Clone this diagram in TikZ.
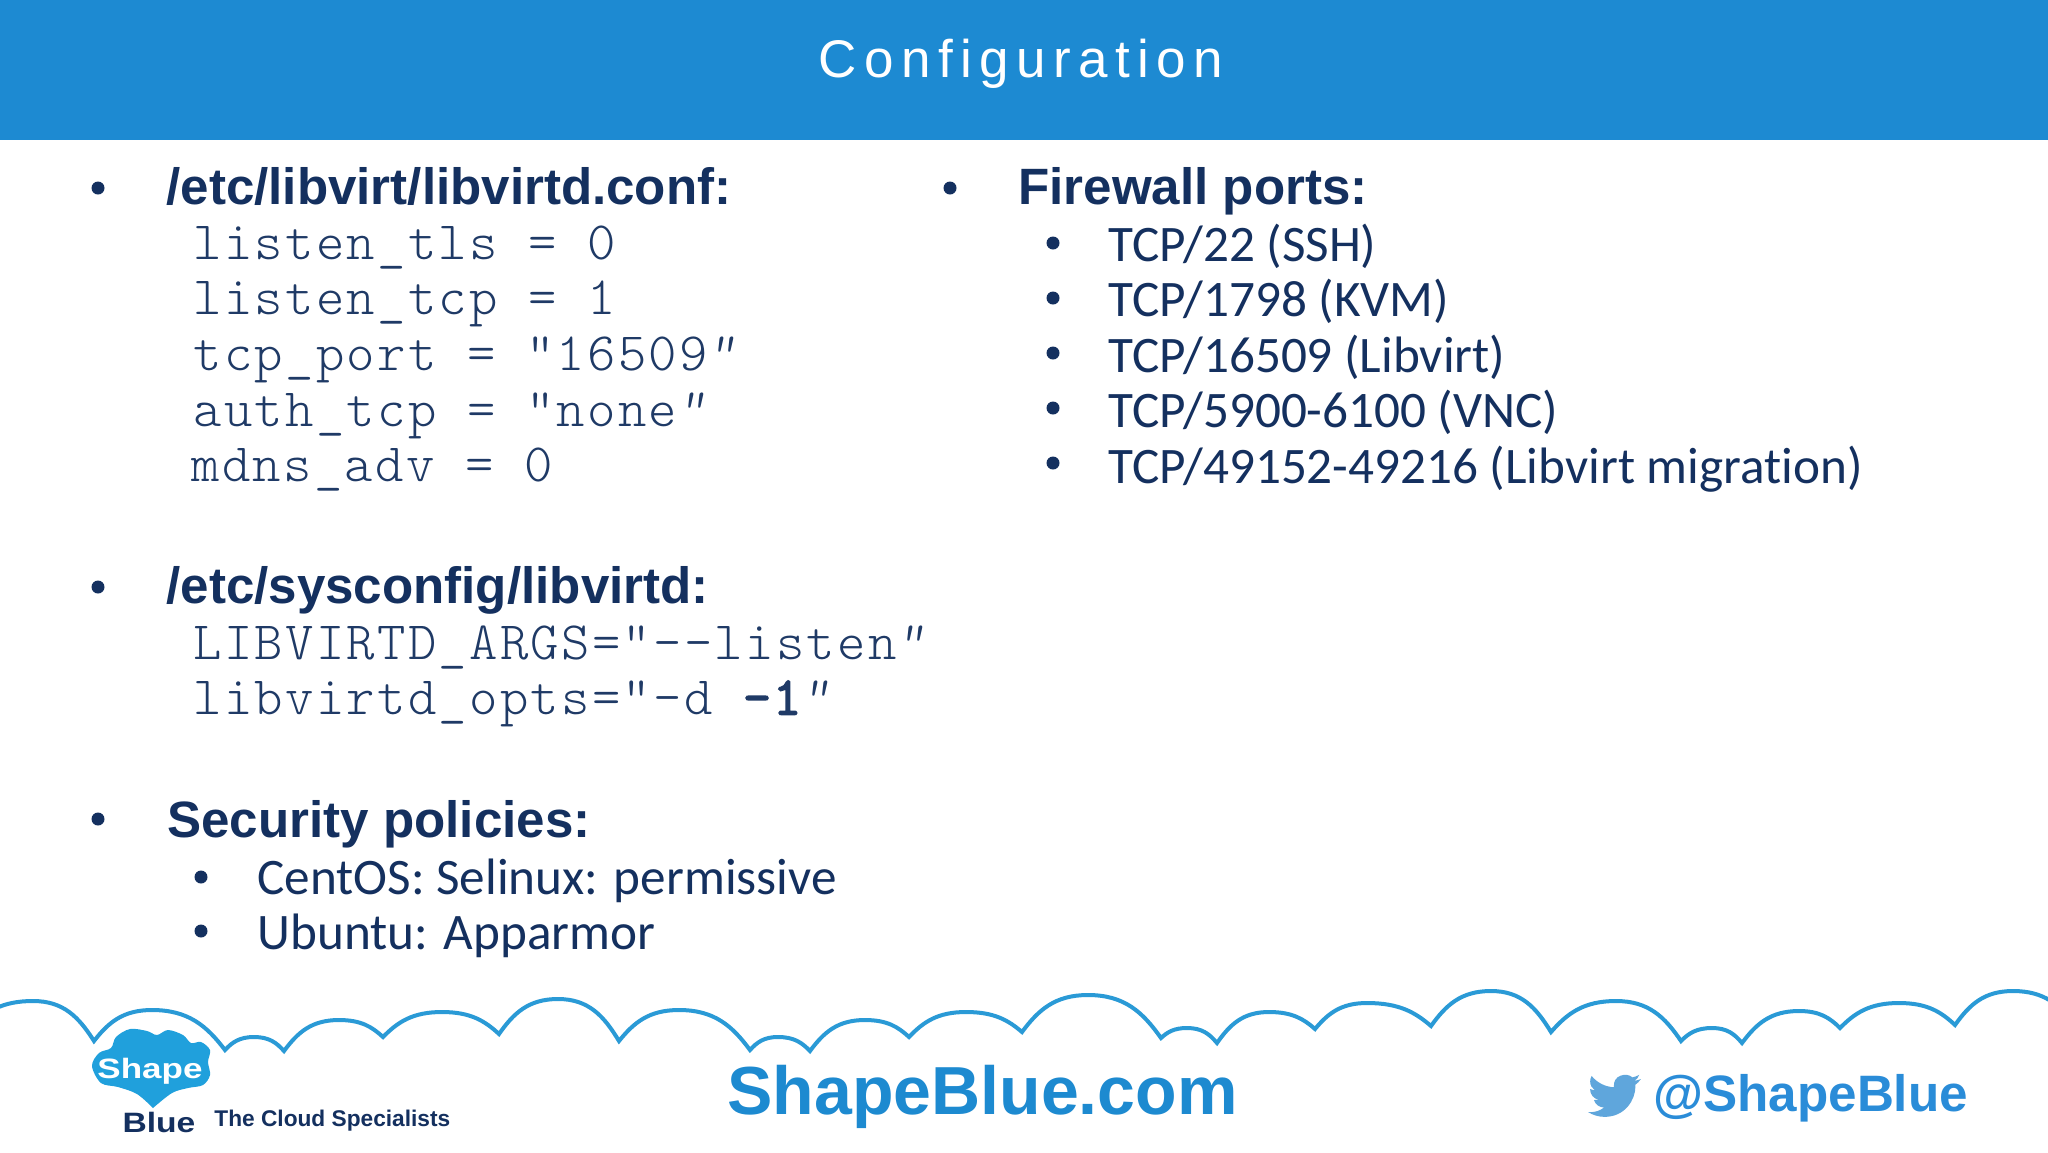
\documentclass[tikz,border=0pt]{standalone}
\usepackage{fontspec}
\setmainfont{Liberation Sans}
\newfontfamily\bodyfont{Carlito}[Ligatures=NoCommon]
\newfontfamily\titlefont{Liberation Sans}[LetterSpace=14]
\newfontfamily\codefont{Latin Modern Mono Light}[LetterSpace=4.3]
\newfontfamily\codebold{Latin Modern Mono}[LetterSpace=4.3,FakeBold=3]
\definecolor{bar}{HTML}{1D8AD2}
\definecolor{navy}{HTML}{14305F}
\definecolor{code}{HTML}{1F3A66}
\definecolor{cloudline}{HTML}{2A9AD6}
\definecolor{logoblue}{HTML}{20A0DC}
\definecolor{webblue}{HTML}{1D8AD0}
\definecolor{birdblue}{HTML}{5FA6DC}
\definecolor{tagblue}{HTML}{2A8CD8}
\newcommand{\cq}{{\itshape ”}}
\tikzset{
  x=0.5pt,y=-0.5pt,
  head/.style={anchor=base west,inner sep=0pt,text=navy,font=\fontsize{25.55}{26}\selectfont\bfseries},
  codeline/.style={anchor=base west,inner sep=0pt,text=code,font=\fontsize{27}{27}\selectfont\codefont},
  body/.style={anchor=base west,inner sep=0pt,text=navy,font=\fontsize{25.6}{27}\selectfont\bodyfont},
  dot/.style={circle,fill=navy,inner sep=0pt,minimum size=6.5pt}
}
\begin{document}
\begin{tikzpicture}
\useasboundingbox (0,0) rectangle (2048,1152);
\fill[white] (0,0) rectangle (2048,1152);
\fill[bar] (0,0) rectangle (2048,139.5);
\node[anchor=base,inner sep=0pt,text=white,font=\fontsize{26.5}{27}\selectfont\titlefont] (title) at (1021,77) {Configuration};
% left column
\node[dot] (b1) at (98,188) {};
\node[head] (h1) at (166,204) {/etc/libvirt/libvirtd.conf:};
\node[codeline] (c1) at (193,259.5) {listen\_tls = 0};
\node[codeline] (c2) at (193,314.5) {listen\_tcp = 1};
\node[codeline] (c3) at (193,370.5) {tcp\_port = "16509\cq};
\node[codeline] (c4) at (193,426.5) {auth\_tcp = "none\cq};
\node[codeline] (c5) at (191,481.5) {mdns\_adv = 0};
\node[dot] (b2) at (98,587) {};
\node[head] (h2) at (166,603) {/etc/sysconfig/libvirtd:};
\node[codeline] (c6) at (193,659.5) {LIBVIRTD\_ARGS="--listen\cq};
\node[codeline] (c7) at (193,714.5) {libvirtd\_opts="-d {\codebold -1}\cq};
\node[dot] (b3) at (98,819) {};
\node[head] (h3) at (167,837) {Security policies:};
\node[dot] (b4) at (201,877) {};
\node[body] (s1) at (257,894) {CentOS: Selinux: permissive};
\node[dot] (b5) at (201,931) {};
\node[body] (s2) at (257,949) {Ubuntu: Apparmor};
% right column
\node[dot] (b6) at (950,188) {};
\node[head] (h4) at (1018,204) {Firewall ports:};
\node[dot] (r1d) at (1053,243) {};
\node[body] (r1) at (1108,261) {TCP/22 (SSH)};
\node[dot] (r2d) at (1053,298) {};
\node[body] (r2) at (1108,316) {TCP/1798 (KVM)};
\node[dot] (r3d) at (1053,353) {};
\node[body] (r3) at (1108,372) {TCP/16509 (Libvirt)};
\node[dot] (r4d) at (1053,408) {};
\node[body] (r4) at (1108,427) {TCP/5900-6100 (VNC)};
\node[dot] (r5d) at (1053,463) {};
\node[body] (r5) at (1108,483) {TCP/49152-49216 (Libvirt migration)};
% cloud line: peak then cusp, from left to right
\draw[cloudline,line width=2pt,line join=miter]
 (-30,1028) foreach \px/\py/\cx/\cy [remember=\cx as \lx (initially -30), remember=\cy as \ly (initially 1028)] in {
  33/1001/94/1041, 152/1010/225/1050, 254/1037/284/1051, 339/1020/383/1037,
  442/1012/499/1034, 558/999/619/1041, 679/1010/750/1050, 778/1037/810/1051,
  865/1020/909/1037, 966/1012/1022/1032, 1088/995/1161/1038, 1187/1028/1217/1043,
  1269/1012/1315/1029, 1367/1003/1431/1026, 1491/991/1551/1032, 1616/1001/1681/1041,
  1712/1028/1742/1043, 1799/1011/1840/1028, 1899/1003/1955/1025, 2013/991/2075/1025}
 { .. controls ({\lx+0.25*(\px-\lx)},{\ly-0.6*(\ly-\py)}) and ({\px-0.5*(\px-\lx)},\py) .. (\px,\py)
   .. controls ({\px+0.5*(\cx-\px)},\py) and ({\cx-0.25*(\cx-\px)},{\cy-0.6*(\cy-\py)}) .. (\cx,\cy) };
% logo
\fill[logoblue] plot[smooth,tension=0.55] coordinates {
 (153,1108) (137,1094) (118,1087) (101,1083) (92,1066) (99,1053) (111,1048)
 (116,1037) (130,1029) (147,1031) (157,1035) (168,1030) (183,1035) (191,1043)
 (201,1042) (210,1050) (208,1062) (210,1075) (203,1085) (188,1088) (172,1093) (153,1108)};
\node[inner sep=0pt,text=white,font=\fontsize{14}{15}\selectfont\bfseries] (shape) at (150,1071) {\scalebox{1.25}[1]{Shape}};
\node[inner sep=0pt,text=navy,font=\fontsize{14}{15}\selectfont\bfseries] (blue) at (159,1122) {\scalebox{1.2}[1]{Blue}};
\node[anchor=base west,inner sep=0pt,text=navy,font=\fontsize{11.35}{12}\selectfont\bfseries] (tag) at (214,1126) {The Cloud Specialists};
\node[anchor=base west,inner sep=0pt,text=webblue,font=\fontsize{34}{36}\selectfont\bfseries] (web) at (727,1114) {ShapeBlue.com};
\node[anchor=base west,inner sep=0pt,text=tagblue,font=\fontsize{25.6}{27}\selectfont\bfseries] (tw) at (1653,1111) {@ShapeBlue};
% bird
\begin{scope}[shift={(1588,1069)},x=1.1pt,y=-1.1pt]
\fill[birdblue] (23.95,4.57) .. controls (23.05,4.97) and (22.1,5.23) .. (21.13,5.35)
 .. controls (22.14,4.74) and (22.91,3.78) .. (23.29,2.62)
 .. controls (22.34,3.18) and (21.29,3.58) .. (20.16,3.81)
 .. controls (17.9,1.4) and (11.0,2.6) .. (11.78,8.29)
 .. controls (7.69,8.09) and (4.07,6.13) .. (1.64,3.16)
 .. controls (1.2,3.9) and (0.97,4.75) .. (0.97,5.64)
 .. controls (0.97,7.35) and (1.84,8.85) .. (3.16,9.73)
 .. controls (2.35,9.71) and (1.6,9.49) .. (0.93,9.12)
 -- (0.93,9.18)
 .. controls (0.93,11.56) and (2.63,13.55) .. (4.88,14)
 .. controls (4.17,14.2) and (3.4,14.23) .. (2.67,14.09)
 .. controls (3.31,16.05) and (5.13,17.47) .. (7.27,17.51)
 .. controls (5.55,18.86) and (3.39,19.61) .. (1.17,19.61)
 .. controls (0.78,19.61) and (0.39,19.59) .. (0,19.54)
 .. controls (2.19,20.94) and (4.78,21.75) .. (7.56,21.75)
 .. controls (16.61,21.75) and (21.56,14.26) .. (21.56,7.77)
 .. controls (21.56,7.56) and (21.56,7.35) .. (21.54,7.14)
 .. controls (22.5,6.45) and (23.34,5.59) .. (24,4.59) -- cycle;
\end{scope}
\end{tikzpicture}
\end{document}
